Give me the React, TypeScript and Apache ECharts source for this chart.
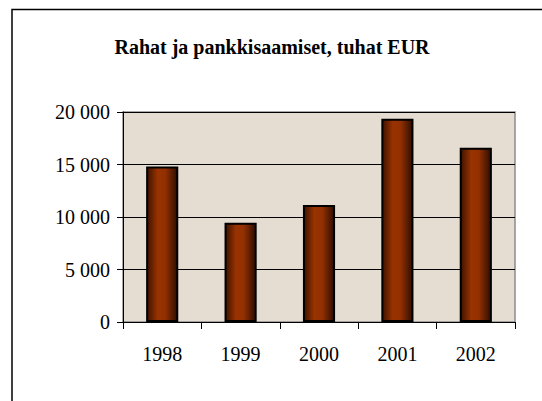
import React, { useEffect, useRef } from "react";
import * as echarts from "echarts";

const categories = ["1998", "1999", "2000", "2001", "2002"];
const values = [14800, 9450, 11150, 19350, 16600];
const title = "Rahat ja pankkisaamiset, tuhat EUR";

const fmt = (v: number) => {
  const s = String(v);
  return s.length > 3 ? s.slice(0, s.length - 3) + " " + s.slice(-3) : s;
};

export default function App() {
  const ref = useRef<HTMLDivElement>(null);
  useEffect(() => {
    if (!ref.current) return;
    const chart = echarts.init(ref.current, null, { renderer: "svg" });
    const font = "'Liberation Serif', 'Times New Roman', serif";
    chart.setOption({
      animation: false,
      backgroundColor: "#ffffff",
      title: {
        text: title,
        left: 267,
        textAlign: "center",
        top: 32,
        textStyle: { fontFamily: font, fontWeight: "bold", fontSize: 20, color: "#000" },
      },
      graphic: [
        {
          type: "rect",
          shape: { x: 12, y: 9.5, width: 700, height: 600 },
          style: { fill: "none", stroke: "#000", lineWidth: 1.5 },
          z: 100,
        },
      ],
      grid: {
        left: 123,
        top: 112,
        right: 27,
        bottom: 79,
        show: true,
        backgroundColor: "#e5ddd2",
        borderColor: "#8c8c8c",
        borderWidth: 1.5,
      },
      xAxis: {
        type: "category",
        data: categories,
        boundaryGap: true,
        axisLine: { show: true, lineStyle: { color: "#000", width: 1 } },
        axisTick: { show: true, length: 7, lineStyle: { color: "#000" } },
        axisLabel: { fontFamily: font, fontSize: 20, color: "#000", margin: 22 },
        splitLine: { show: false },
      },
      yAxis: {
        type: "value",
        min: 0,
        max: 20000,
        interval: 5000,
        axisLine: { show: true, lineStyle: { color: "#000", width: 1 } },
        axisTick: { show: true, length: 6, lineStyle: { color: "#000" } },
        axisLabel: {
          fontFamily: font,
          fontSize: 20,
          color: "#000",
          margin: 13,
          formatter: (v: number) => fmt(v),
        },
        splitLine: { show: true, lineStyle: { color: "#000", width: 1 } },
      },
      series: [
        {
          type: "bar",
          data: values,
          barWidth: "41%",
          itemStyle: {
            borderColor: "#000",
            borderWidth: 2,
            color: new echarts.graphic.LinearGradient(0, 0, 1, 0, [
              { offset: 0, color: "#3d1200" },
              { offset: 0.35, color: "#993300" },
              { offset: 0.6, color: "#933000" },
              { offset: 1, color: "#2e0e00" },
            ]),
          },
        },
      ],
    });
    return () => chart.dispose();
  }, []);
  return <div ref={ref} style={{ width: 542, height: 401, position: "absolute", left: 0, top: 0 }} />;
}
